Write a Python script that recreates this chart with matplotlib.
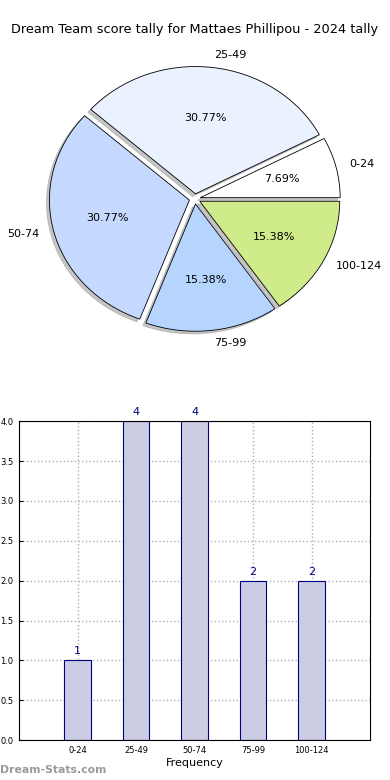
import matplotlib
matplotlib.use("Agg")  # headless
import matplotlib.pyplot as plt

title = "Dream Team score tally for Mattaes Phillipou - 2024 tally"
bins = ["0-24", "25-49", "50-74", "75-99", "100-124"]
counts = [1, 4, 4, 2, 2]
pie_colors = ["#ffffff", "#eaf2ff", "#c5d9ff", "#b5d5ff", "#d0eb8a"]

fig = plt.figure(figsize=(3.9, 7.8), dpi=100)
fig.text(0.5, 0.962, title, ha="center", va="center", fontsize=9.3)

# pie of tally bands
ax1 = fig.add_axes([0.051, 0.541, 0.897, 0.408])
wedges, texts, autotexts = ax1.pie(
    counts, labels=bins, colors=pie_colors, autopct="%.2f%%",
    explode=[0.04] * len(counts),
    shadow={"ox": -0.015, "oy": -0.015, "facecolor": "#8c8c8c", "edgecolor": "#8c8c8c"},
    startangle=0,
    wedgeprops={"edgecolor": "black", "linewidth": 0.6},
    textprops={"fontsize": 8}, labeldistance=1.1, pctdistance=0.6)
ax1.set_aspect("auto")

# bar chart of frequency
ax2 = fig.add_axes([0.049, 0.051, 0.900, 0.409])
x = list(range(len(bins)))
ax2.bar(x, counts, width=0.45, color="#ccccE5", edgecolor="#000080", linewidth=0.8, zorder=2)
for xi, c in zip(x, counts):
    ax2.text(xi, c + 0.05, str(c), ha="center", va="bottom", color="#000080", fontsize=8)
ax2.set_xlim(-1, 5)
ax2.set_ylim(0, 4)
ax2.set_xticks(x)
ax2.set_xticklabels(bins, fontsize=6)
ax2.set_yticks([i * 0.5 for i in range(9)])
ax2.set_yticklabels([f"{i * 0.5:.1f}" for i in range(9)], fontsize=6)
ax2.tick_params(direction="in", length=3, pad=4)
ax2.grid(True, linestyle=":", color="#b0b0b0", linewidth=1, zorder=0)
ax2.set_xlabel("Frequency", fontsize=8, labelpad=2)

fig.text(0.0, 0.013, "Dream-Stats.com", ha="left", va="center", fontsize=7.8,
         color="#9a9a9a", fontweight="bold")

plt.savefig("out.png", dpi=100)
plt.close()
